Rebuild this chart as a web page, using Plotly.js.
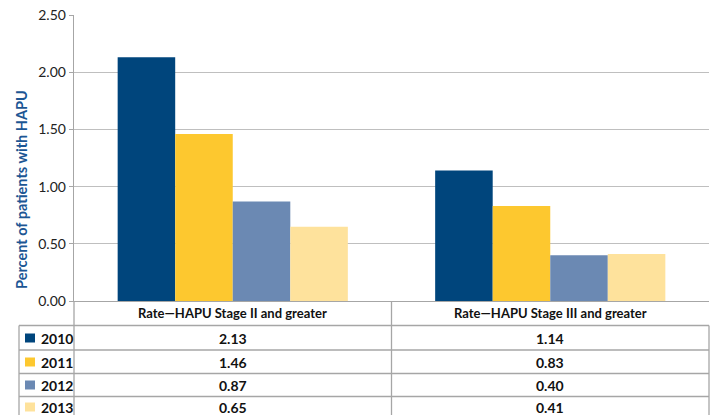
<!DOCTYPE html>
<html>
<head>
<meta charset="utf-8">
<script src="https://cdn.plot.ly/plotly-3.0.1.min.js"></script>
<style>html,body{margin:0;padding:0;background:#fff;}#chart{width:714px;height:415px;}</style>
</head>
<body>
<div id="chart"></div>
<script>
const categories = ["Rate\u2014HAPU Stage II and greater", "Rate\u2014HAPU Stage III and greater"];
const years = ["2010", "2011", "2012", "2013"];
const values2010 = [2.13, 1.14];
const values2011 = [1.46, 0.83];
const values2012 = [0.87, 0.40];
const values2013 = [0.65, 0.41];
const seriesValues = [values2010, values2011, values2012, values2013];
const colors = ["#00457C", "#FDC82F", "#6B89B3", "#FEE29C"];
const yTicks = [0, 0.5, 1, 1.5, 2, 2.5];
const yTitle = "Percent of patients with HAPU";

const FONT = "Lato, 'Open Sans', sans-serif";
const W = 714, H = 415, L = 74, R = 709, T = 15, B = 301;
const px = x => (x - L) / (R - L);
const py = y => (B - y) / (B - T);

const traces = years.map((yr, i) => ({
  type: "bar", name: yr, x: categories, y: seriesValues[i],
  marker: {color: colors[i], line: {width: 0}}, hoverinfo: "skip"
}));

const lineC = "#A6A6A6";
const rowLines = [325.5, 350, 373.5, 396.5];
const rowCenters = [338, 362, 385, 407];
const shapes = [];
rowLines.forEach(y => shapes.push({type: "line", xref: "paper", yref: "paper",
  x0: px(19), x1: 1, y0: py(y), y1: py(y), line: {color: lineC, width: 1.3}}));
[[19, 325.5], [L, B], [(L + R) / 2, B], [R, 325.5]].forEach(([x, y0]) =>
  shapes.push({type: "line", xref: "paper", yref: "paper",
    x0: px(x), x1: px(x), y0: py(y0), y1: py(430), line: {color: lineC, width: 1.3}}));
years.forEach((yr, i) => shapes.push({type: "rect", xref: "paper", yref: "paper",
  x0: px(25), x1: px(35), y0: py(rowCenters[i] + 4.5), y1: py(rowCenters[i] - 4.5),
  fillcolor: colors[i], line: {width: 0}}));

const bold = (size, color) => ({family: FONT, size: size, color: color || "#111", weight: "bold"});
const annotations = [];
categories.forEach((c, j) => annotations.push({xref: "x", yref: "paper", x: c, y: py(313),
  xanchor: "center", yanchor: "middle", text: c, showarrow: false, font: bold(13)}));
years.forEach((yr, i) => {
  annotations.push({xref: "paper", yref: "paper", x: px(39), y: py(rowCenters[i]),
    xanchor: "left", yanchor: "middle", text: yr, showarrow: false, font: bold(14)});
  categories.forEach((c, j) => annotations.push({xref: "x", yref: "paper", x: c, y: py(rowCenters[i]),
    xanchor: "center", yanchor: "middle", text: seriesValues[i][j].toFixed(2), showarrow: false,
    font: bold(14)}));
});
annotations.push({xref: "paper", yref: "paper", x: px(21), y: py(190), textangle: -90,
  xanchor: "center", yanchor: "middle",
  text: yTitle, showarrow: false, font: bold(14.5, "#1C5694")});

const layout = {
  width: W, height: H,
  margin: {l: L, r: W - R, t: T, b: H - B, pad: 0},
  paper_bgcolor: "#fff", plot_bgcolor: "#fff",
  barmode: "group", bargap: 0.275, bargroupgap: 0,
  showlegend: false,
  xaxis: {type: "category", range: [-0.5, 1.5], showticklabels: false, ticks: "",
    showgrid: false, showline: true, linecolor: "#A6A6A6", linewidth: 1.3, zeroline: false, fixedrange: true},
  yaxis: {range: [0, 2.5], tickvals: yTicks, ticktext: yTicks.map(v => v.toFixed(2)),
    ticks: "outside", ticklen: 4, tickcolor: "#A6A6A6", tickwidth: 1,
    showline: true, linecolor: "#A6A6A6", linewidth: 1.3,
    gridcolor: "#BFBFBF", gridwidth: 1.3, zeroline: false,
    tickfont: {family: FONT, size: 14, color: "#222"}, fixedrange: true},
  shapes: shapes, annotations: annotations,
  font: {family: FONT}
};
Plotly.newPlot("chart", traces, layout, {displayModeBar: false, staticPlot: true});
</script>
</body>
</html>
